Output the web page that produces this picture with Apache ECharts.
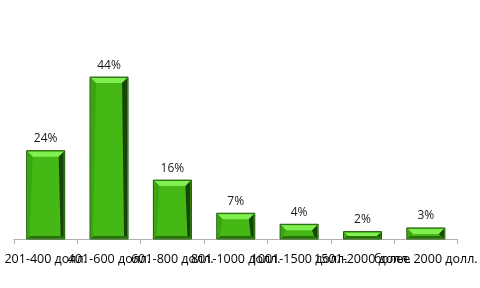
<!DOCTYPE html>
<html><head><meta charset="utf-8">
<script src="https://cdn.jsdelivr.net/npm/echarts@6/dist/echarts.min.js"></script>
<style>html,body{margin:0;padding:0;background:#fff}#c{width:480px;height:288px}</style>
</head><body><div id="c"></div>
<script>
var categories = ['201-400 долл.', '401-600 долл.', '601-800 долл.', '801-1000 долл.', '1001-1500 долл.', '1501-2000 долл.', 'более 2000 долл.'];
var values = [24, 44, 16, 7, 4, 2, 3];
var labelSuffix = '%';

var chart = echarts.init(document.getElementById('c'));
chart.setOption({
  animation: false,
  grid: {left: 14, right: 14, top: 55, bottom: 49},
  xAxis: {
    type: 'category', data: categories,
    axisLine: {lineStyle: {color: '#b0b0b0'}},
    axisTick: {show: true, length: 5, lineStyle: {color: '#b0b0b0'}},
    axisLabel: {interval: 0, color: '#000', fontSize: 12.5, fontFamily: 'Open Sans', margin: 14, hideOverlap: false}
  },
  yAxis: {type: 'value', min: 0, max: 50, show: false, splitLine: {show: false}},
  series: [{
    type: 'custom',
    data: values.map(function (v, i) { return [i, v]; }),
    renderItem: function (params, api) {
      var top = api.coord([api.value(0), api.value(1)]);
      var base = api.coord([api.value(0), 0]);
      var w = api.size([1, 0])[0] * 0.6;
      var x = top[0] - w / 2, y = top[1], h = base[1] - top[1];
      var b = Math.min(5, h / 2);
      var r = Math.min(3, h / 2);
      var children = [
        {type: 'rect', shape: {x: x, y: y, width: w, height: h}, style: {fill: '#45b816', stroke: '#1d5508', lineWidth: 1}},
        {type: 'polygon', shape: {points: [[x + 1, y + 1], [x + w - 1, y + 1], [x + w - b - 1, y + b + 1], [x + b + 1, y + b + 1]]}, style: {fill: '#80f050'}},
        {type: 'polygon', shape: {points: [[x + w - 1, y + 1], [x + w - 1, y + h - 1], [x + w - r - 1, y + h - r], [x + w - b - 1, y + b + 1]]}, style: {fill: '#174505'}},
        {type: 'polygon', shape: {points: [[x + 1, y + h - 1], [x + w - 1, y + h - 1], [x + w - r - 1, y + h - r], [x + r, y + h - r]]}, style: {fill: '#2a700b'}},
        {type: 'polygon', shape: {points: [[x + 1, y + 1], [x + b + 1, y + b + 1], [x + r, y + h - r], [x + 1, y + h - 1]]}, style: {fill: '#3aa512'}},
        {type: 'text', x: top[0], y: y - 6, style: {text: api.value(1) + labelSuffix, fontSize: 12, fontFamily: 'Open Sans', fill: '#1a1a1a', align: 'center', verticalAlign: 'bottom'}}
      ];
      return {type: 'group', children: children};
    }
  }]
});
</script></body></html>
